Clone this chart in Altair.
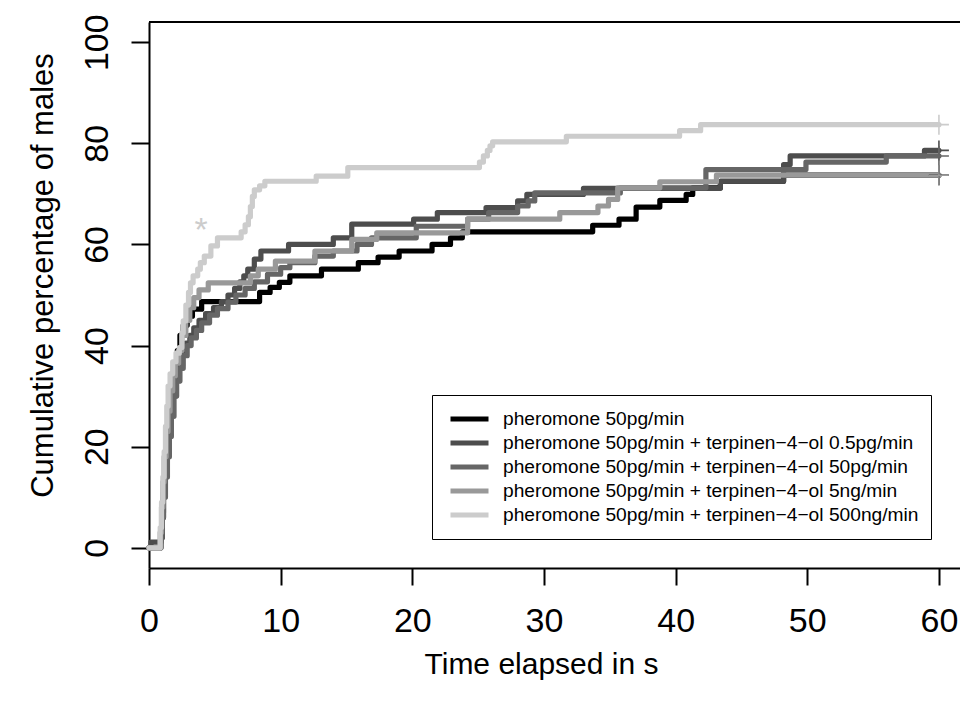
import altair as alt
import pandas as pd

LABELS = [
    "pheromone 50pg/min",
    "pheromone 50pg/min + terpinen\u22124\u2212ol 0.5pg/min",
    "pheromone 50pg/min + terpinen\u22124\u2212ol 50pg/min",
    "pheromone 50pg/min + terpinen\u22124\u2212ol 5ng/min",
    "pheromone 50pg/min + terpinen\u22124\u2212ol 500ng/min",
]
COLORS = ["#000000", "#4d4d4d", "#666666", "#999999", "#cccccc"]
END_TIME = 60
X_TICKS = [0, 10, 20, 30, 40, 50, 60]
Y_TICKS = [0, 20, 40, 60, 80, 100]

# pheromone only (black)
t_black = [0, 0.9, 1.0, 1.1, 1.2, 1.3, 1.45, 1.6, 1.75, 1.95, 2.15, 2.35, 2.6, 2.9, 3.3, 4.0,
           8.4, 9.2, 9.9, 10.7, 13.1, 15.9, 17.4, 19.0, 21.5, 22.9, 23.8, 33.7, 35.7, 37.0,
           38.8, 40.8, 41.3, 43.4, 48.2]
p_black = [0, 2, 6, 11, 16, 21, 26, 30, 33, 36, 39, 42, 44, 45.8, 47.2, 48.7,
           50.5, 51.5, 52.5, 53.8, 55.1, 56.4, 57.5, 58.7, 60.0, 61.3, 62.5, 63.8, 65.0, 67.4,
           68.7, 69.9, 71.2, 72.5, 73.7]

# + terpinen-4-ol 0.5pg/min
t_05pg = [0, 0.15, 0.9, 1.0, 1.1, 1.2, 1.35, 1.5, 1.65, 1.85, 2.05, 2.3, 2.55, 2.8, 3.1, 3.4,
          3.8, 4.3, 4.9, 5.5, 6.0, 6.5, 6.9, 7.2, 7.5, 8.0, 8.5, 10.6, 14.0, 15.4, 20.1,
          21.9, 25.6, 28.0, 28.7, 33.0, 43.4, 48.2, 48.7, 58.9]
p_05pg = [0, 1.1, 3, 7, 11, 15, 19, 23, 27, 30, 33, 36, 38.5, 40.5, 42, 43.5,
          45, 46.3, 47.5, 48.7, 50, 51.3, 52.6, 53.8, 55.1, 57.1, 58.7, 60, 61.3, 64, 65,
          66.3, 67.3, 68.6, 69.9, 71.1, 72.5, 75.8, 77.5, 78.6]

# + terpinen-4-ol 50pg/min
t_50pg = [0, 0.9, 1.0, 1.1, 1.25, 1.4, 1.55, 1.7, 1.9, 2.1, 2.35, 2.6, 2.9, 3.2, 3.6, 4.0,
          4.6, 5.2, 6.0, 6.6, 7.3, 8.0, 9.0, 10.0, 10.7, 12.6, 14.0, 15.8, 16.9, 20.3,
          24.2, 25.8, 28.0, 28.8, 29.3, 35.8, 42.3, 49.9, 56.0]
p_50pg = [0, 2, 6, 10, 14, 18, 22, 26, 30, 33, 35.5, 38, 40, 41.5, 43, 44.5,
          46, 47.3, 48.6, 50, 51.3, 52.6, 54.1, 55.4, 56.4, 57.7, 58.7, 60, 61.3, 63.6,
          65, 66.3, 67.6, 68.6, 70.2, 71.2, 74.8, 76.3, 77.5]

# + terpinen-4-ol 5ng/min
t_5ng = [0, 0.85, 0.95, 1.05, 1.15, 1.3, 1.45, 1.6, 1.8, 2.0, 2.25, 2.5, 2.8, 3.1, 3.4, 3.8,
         4.5, 7.7, 8.3, 9.6, 12.6, 15.4, 17.3, 24.2, 31.2, 34.1, 34.9, 35.6, 38.8, 43.1]
p_5ng = [0, 3, 8, 13, 18, 23, 27, 31, 34, 36.5, 39, 42, 45, 47.5, 49.5, 51,
         52.4, 53.8, 55.1, 56.7, 58.7, 61.0, 62.3, 65.0, 66.3, 67.6, 68.9, 71.2, 72.4, 73.7]

# + terpinen-4-ol 500ng/min
t_500ng = [0, 0.85, 0.95, 1.05, 1.15, 1.25, 1.35, 1.45, 1.6, 1.8, 2.05, 2.3, 2.5, 2.6, 2.8, 3.0,
           3.15, 3.35, 3.7, 3.9, 4.2, 4.7, 5.2, 7.0, 7.3, 7.55, 7.7, 7.85, 8.0, 8.4, 8.8,
           12.7, 15.1, 25.1, 25.4, 25.7, 25.9, 26.1, 31.7, 40.3, 41.9]
p_500ng = [0, 4, 9, 14, 19, 24, 28, 32, 34.4, 36.8, 38.5, 39.6, 42.5, 44.9, 48, 50.5,
           52.4, 53.8, 55.1, 56.4, 57.7, 59.7, 61.3, 62.5, 63.9, 65.5, 67.5, 69.5, 70.8, 71.6, 72.5,
           73.5, 75.2, 76.3, 77.5, 78.6, 79.5, 80.3, 81.4, 82.5, 83.7]

SERIES = [(t_black, p_black), (t_05pg, p_05pg), (t_50pg, p_50pg), (t_5ng, p_5ng), (t_500ng, p_500ng)]

# asterisk annotation
STAR_T, STAR_P = 3.95, 60.7

rows, ends = [], []
for sid, (ts, ps) in enumerate(SERIES):
    for k, (t, p) in enumerate(zip(ts, ps)):
        rows.append({"sid": sid, "group": LABELS[sid], "t": t, "p": p, "k": k})
    rows.append({"sid": sid, "group": LABELS[sid], "t": END_TIME, "p": ps[-1], "k": len(ts)})
    ends.append({"sid": sid, "group": LABELS[sid], "t": END_TIME, "p": ps[-1]})
df = pd.DataFrame(rows)
df_end = pd.DataFrame(ends)

FONT = "Liberation Sans"

X = alt.X("t:Q",
          scale=alt.Scale(domain=[0, 61.6], nice=False, zero=False),
          axis=alt.Axis(values=X_TICKS, title="Time elapsed in s", grid=False,
                        domainColor="black", domainWidth=2, tickColor="black", tickWidth=2,
                        tickSize=17, labelFontSize=34, labelFont=FONT, labelColor="black",
                        labelBaseline="alphabetic", labelPadding=46, labelFlush=False,
                        titleFontSize=30, titleFont=FONT, titleFontWeight="normal",
                        titleColor="black", titleBaseline="alphabetic", titleY=105,
                        titleX=392))
Y = alt.Y("p:Q",
          scale=alt.Scale(domain=[-4, 104], nice=False, zero=False),
          axis=alt.Axis(values=Y_TICKS, title="Cumulative percentage of males", grid=False,
                        domainColor="black", domainWidth=2, tickColor="black", tickWidth=2,
                        tickSize=18, labelFontSize=34, labelFont=FONT, labelColor="black",
                        labelAngle=270, labelAlign="center", labelBaseline="alphabetic",
                        labelPadding=24, labelFlush=False,
                        titleFontSize=31, titleFont=FONT, titleFontWeight="normal",
                        titleColor="black", titleAngle=270, titleAlign="center",
                        titleBaseline="alphabetic", titleX=-97, titleY=253))

color_scale = alt.Scale(domain=LABELS, range=COLORS)
legend = alt.Legend(title=None, orient="none", legendX=283, legendY=373, padding=12,
                    strokeColor="black", fillColor="white", symbolType="stroke",
                    symbolSize=1444, symbolStrokeWidth=5, labelFontSize=19.2, labelFont=FONT,
                    labelColor="black", clipHeight=24, rowPadding=0, symbolOffset=4,
                    labelOffset=12, labelLimit=600)

layers = []
for sid in range(len(SERIES)):
    layers.append(
        alt.Chart(df).transform_filter(alt.datum.sid == sid)
        .mark_line(interpolate="step-after", strokeWidth=5.2, strokeCap="round", strokeJoin="round")
        .encode(x=X, y=Y, order="k:Q",
                color=alt.Color("group:N", scale=color_scale, legend=legend))
    )

censor = alt.Chart(df_end).mark_point(
    shape="M-1,0L1,0M0,-1L0,1", size=400, filled=False, strokeWidth=1.6, opacity=1
).encode(x=X, y=Y, color=alt.Color("group:N", scale=color_scale, legend=legend))

top_border = alt.Chart(pd.DataFrame({"p": [104]})).mark_rule(color="black", strokeWidth=2).encode(
    y=alt.Y("p:Q", scale=alt.Scale(domain=[-4, 104], nice=False, zero=False))
)

star = alt.Chart(pd.DataFrame({"t": [STAR_T], "p": [STAR_P], "s": ["*"]})).mark_text(
    fontSize=34, font=FONT, color="#cccccc", align="center", baseline="alphabetic"
).encode(x=X, y=Y, text="s:N")

chart = alt.layer(*layers, censor, top_border, star).properties(
    width=811, height=546,
    autosize=alt.AutoSizeParams(type="none"),
    padding={"left": 149, "top": 22, "right": 0, "bottom": 134},
).configure_view(stroke=None).configure(background="white")

chart.save("out.html", embed_options={"renderer": "svg", "actions": False})
